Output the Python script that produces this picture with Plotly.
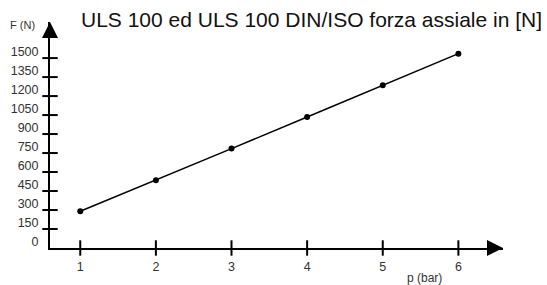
import plotly.graph_objects as go

pressure_bar = [1, 2, 3, 4, 5, 6]
force_n = [290, 535, 785, 1035, 1285, 1535]
y_ticks = [0, 150, 300, 450, 600, 750, 900, 1050, 1200, 1350, 1500]
x_ticks = [1, 2, 3, 4, 5, 6]
title = "ULS 100 ed ULS 100 DIN/ISO forza assiale in [N]"

X0, X1 = 0.6, 6.59
Y0, Y1 = 0, 1785
font = "Liberation Sans, Arial, sans-serif"

fig = go.Figure()
# y tick marks crossing the axis
fig.add_trace(go.Scatter(x=[X0]*len(y_ticks[1:]), y=y_ticks[1:], mode="markers",
    marker=dict(symbol="line-ew", size=11, line=dict(width=2, color="black")),
    cliponaxis=False, hoverinfo="skip", showlegend=False))
# x tick marks
fig.add_trace(go.Scatter(x=x_ticks, y=[Y0]*len(x_ticks), mode="markers",
    marker=dict(symbol="line-ns", size=11, line=dict(width=2, color="black")),
    cliponaxis=False, hoverinfo="skip", showlegend=False))
# arrow heads
fig.add_trace(go.Scatter(x=[X0], y=[Y1], mode="markers",
    marker=dict(symbol="arrow-up", size=16, color="black", line=dict(width=0)),
    cliponaxis=False, hoverinfo="skip", showlegend=False))
fig.add_trace(go.Scatter(x=[X1], y=[Y0], mode="markers",
    marker=dict(symbol="arrow-right", size=16, color="black", line=dict(width=0)),
    cliponaxis=False, hoverinfo="skip", showlegend=False))
# data
fig.add_trace(go.Scatter(x=pressure_bar, y=force_n, mode="lines+markers",
    line=dict(color="black", width=1.5), marker=dict(color="black", size=6),
    cliponaxis=False, showlegend=False))

fig.update_layout(
    width=547, height=285,
    margin=dict(l=50, r=44, t=22, b=37, autoexpand=False),
    paper_bgcolor="white", plot_bgcolor="white",
    font=dict(family=font, color="#333333", size=12),
    xaxis=dict(range=[X0, X1], showgrid=False, zeroline=False, showline=True,
               linecolor="black", linewidth=2, tickvals=x_ticks, ticks="",
               automargin=False,
               tickfont=dict(size=12.5, color="#333333"), ticklabelstandoff=6),
    yaxis=dict(range=[Y0, Y1], showgrid=False, zeroline=False, showline=True,
               linecolor="black", linewidth=2, tickvals=y_ticks, ticks="",
               automargin=False,
               tickfont=dict(size=12.5, color="#333333"), ticklabelstandoff=7,
               ticklabelshift=-6),
    annotations=[
        dict(text=title, xref="paper", yref="paper", x=0.577, y=1.0, yshift=3,
             xanchor="center", yanchor="middle", showarrow=False,
             font=dict(size=21, color="#111111", family=font)),
        dict(text="F (N)", xref="paper", yref="paper", x=-0.028, y=1.0,
             xanchor="right", yanchor="middle", yshift=-3, showarrow=False,
             font=dict(size=11, color="#333333", family=font)),
        dict(text="p (bar)", xref="x", yref="paper", x=5.55, y=0,
             xanchor="center", yanchor="middle", yshift=-30, showarrow=False,
             font=dict(size=12, color="#333333", family=font)),
    ],
)
fig.write_html("out.html", config={"displayModeBar": False},
               post_script="document.body.style.margin='0';")
